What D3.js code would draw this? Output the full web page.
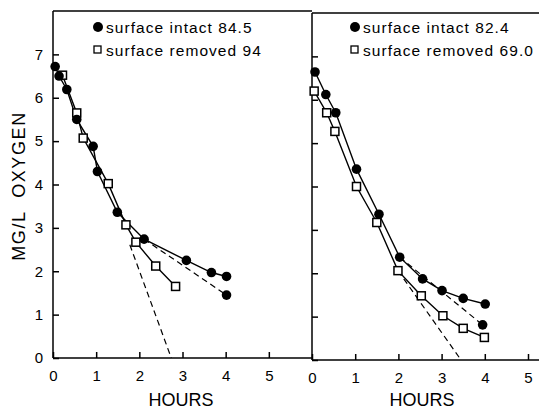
<!DOCTYPE html>
<html><head><meta charset="utf-8">
<script src="https://cdn.jsdelivr.net/npm/d3@7"></script>
<style>
body{margin:0;background:#fff;}
svg{display:block;font-family:"Liberation Sans",Arial,sans-serif;}
</style></head>
<body><svg id="c" width="539" height="410"></svg>
<script>
// ---- data ----
const leftIntactT = [0.05,0.14,0.32,0.55,0.93,1.03,1.49,2.11,3.09,3.67,4.02];
const leftIntactV = [6.72,6.50,6.19,5.50,4.88,4.30,3.36,2.74,2.25,1.97,1.88];
const leftRemovedT = [0.22,0.55,0.70,1.28,1.69,1.92,2.38,2.84];
const leftRemovedV = [6.52,5.65,5.07,4.02,3.07,2.67,2.12,1.65];
const leftDashA = [[2.11,2.74],[4.02,1.45]];
const leftDashB = [[1.78,2.61],[2.74,0]];
const leftExtraDot = [[4.02,1.45]];
const rightIntactT = [0.07,0.32,0.55,1.03,1.55,2.03,2.56,3.01,3.50,4.01];
const rightIntactV = [6.64,6.12,5.70,4.40,3.36,2.37,1.87,1.60,1.42,1.29];
const rightRemovedT = [0.05,0.34,0.53,1.03,1.50,1.99,2.53,3.03,3.50,3.99];
const rightRemovedV = [6.20,5.70,5.27,4.00,3.17,2.06,1.48,1.02,0.73,0.52];
const rightDashA = [[2.03,2.37],[3.95,0.81]];
const rightDashB = [[1.99,2.06],[3.45,0]];
const rightExtraDot = [[3.95,0.81]];
const xTicks = [0,1,2,3,4,5];
const yTicks = [0,1,2,3,4,5,6,7];
const legendLeft = ["surface intact 84.5","surface removed 94"];
const legendRight = ["surface intact 82.4","surface removed 69.0"];

const svg = d3.select("#c");
const line = (x,y)=>d3.line().x(d=>x(d[0])).y(d=>y(d[1]));
const zip = (a,b)=>a.map((t,i)=>[t,b[i]]);

function panel(cfg){
  const x = d3.scaleLinear().domain([0,cfg.xmax]).range([cfg.x0,cfg.x1]);
  const y = d3.scaleLinear().domain([0,8]).range([cfg.yb,cfg.yt]);
  const g = svg.append("g");
  // frame
  g.append("line").attr("x1",cfg.x0).attr("x2",cfg.x0).attr("y1",cfg.yt).attr("y2",cfg.yb).attr("stroke","#000").attr("stroke-width",1.5);
  g.append("line").attr("x1",cfg.x0).attr("x2",cfg.x1).attr("y1",cfg.yt).attr("y2",cfg.yt).attr("stroke","#000").attr("stroke-width",1.3);
  g.append("line").attr("x1",cfg.x0).attr("x2",cfg.x1).attr("y1",cfg.yb).attr("y2",cfg.yb).attr("stroke","#000").attr("stroke-width",1.5);
  // axes
  const ya = d3.axisLeft(y).tickValues(yTicks).tickSize(-6).tickPadding(10);
  if(!cfg.ylabels) ya.tickFormat("");
  const gy = g.append("g").attr("transform",`translate(${cfg.x0},0)`).call(ya);
  const gx = g.append("g").attr("transform",`translate(0,${cfg.yb})`)
    .call(d3.axisBottom(x).tickValues(xTicks).tickSize(-6).tickPadding(12).tickFormat(d3.format("d")));
  [gx,gy].forEach(a=>{
    a.select(".domain").remove();
    a.selectAll(".tick line").attr("stroke","#000").attr("stroke-width",1.5);
    a.selectAll(".tick text").attr("fill","#000").style("font-size","15px").style("font-family","'Liberation Sans',Arial,sans-serif");
  });
  // dashed
  [cfg.dashA,cfg.dashB].forEach(d=>{
    g.append("path").attr("d",line(x,y)(d)).attr("fill","none").attr("stroke","#000").attr("stroke-width",1.2).attr("stroke-dasharray","6,4");
  });
  const intact = zip(cfg.iT,cfg.iV), removed = zip(cfg.rT,cfg.rV);
  g.append("path").attr("d",line(x,y)(removed)).attr("fill","none").attr("stroke","#000").attr("stroke-width",1.4);
  g.append("path").attr("d",line(x,y)(intact)).attr("fill","none").attr("stroke","#000").attr("stroke-width",1.4);
  g.selectAll(".sq").data(removed).enter().append("rect")
    .attr("x",d=>x(d[0])-4).attr("y",d=>y(d[1])-4).attr("width",8).attr("height",8)
    .attr("fill","#fff").attr("stroke","#000").attr("stroke-width",1.5);
  g.selectAll(".dot").data(intact.concat(cfg.extra)).enter().append("circle")
    .attr("cx",d=>x(d[0])).attr("cy",d=>y(d[1])).attr("r",4.8).attr("fill","#000");
  // legend
  const lg = g.append("g");
  lg.append("circle").attr("cx",cfg.lx).attr("cy",27).attr("r",5).attr("fill","#000");
  lg.append("rect").attr("x",cfg.lx-4).attr("y",46).attr("width",7).attr("height",7).attr("fill","#fff").attr("stroke","#000").attr("stroke-width",1.3);
  cfg.legend.forEach((t,i)=>{
    lg.append("text").attr("x",cfg.lx+8).attr("y",33+i*23).text(t)
      .style("font-size","15.5px").style("letter-spacing","1.05px").attr("fill","#000");
  });
  // x title
  g.append("text").attr("x",cfg.hx).attr("y",406).attr("text-anchor","middle").text("HOURS")
    .style("font-size","18px").attr("fill","#000");
  return {x,y};
}

panel({x0:53,x1:312,xmax:6,yb:358,yt:11,ylabels:true,iT:leftIntactT,iV:leftIntactV,rT:leftRemovedT,rV:leftRemovedV,
  dashA:leftDashA,dashB:leftDashB,extra:leftExtraDot,lx:98,legend:legendLeft,hx:181});
panel({x0:312,x1:539,xmax:227/43.2,yb:360,yt:13,ylabels:false,iT:rightIntactT,iV:rightIntactV,rT:rightRemovedT,rV:rightRemovedV,
  dashA:rightDashA,dashB:rightDashB,extra:rightExtraDot,lx:355,legend:legendRight,hx:422});

svg.append("text").attr("transform","translate(25,186) rotate(-90)").attr("text-anchor","middle")
  .style("white-space","pre")
  .text("MG/L  OXYGEN").style("font-size","18px").style("letter-spacing","1.6px").attr("fill","#000");
</script></body></html>
